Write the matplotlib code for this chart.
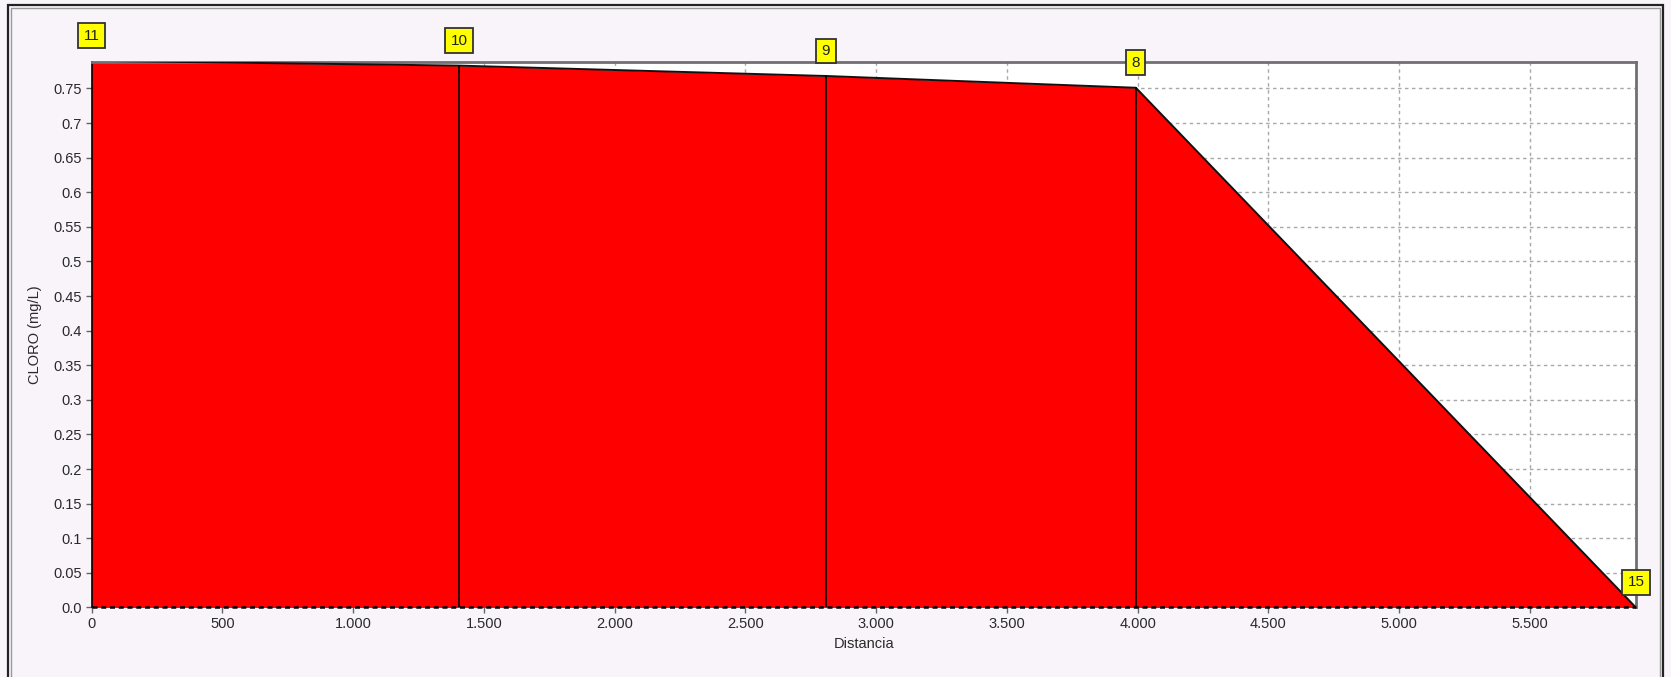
import matplotlib
matplotlib.use("Agg")
import matplotlib.pyplot as plt
from matplotlib.patches import Rectangle
from matplotlib.ticker import FuncFormatter

# Chlorine profile along the pipe path
nodes = ["11", "10", "9", "8", "15"]
distance = [0, 1406, 2808, 3993, 5905]
chlorine = [0.790, 0.783, 0.768, 0.751, 0.0]

x_ticks = [0, 500, 1000, 1500, 2000, 2500, 3000, 3500, 4000, 4500, 5000, 5500]
y_ticks = [0.0, 0.05, 0.1, 0.15, 0.2, 0.25, 0.3, 0.35, 0.4, 0.45, 0.5, 0.55, 0.6, 0.65, 0.7, 0.75]

plt.rcParams["font.family"] = ["Liberation Sans", "DejaVu Sans"]

fig = plt.figure(figsize=(16.71, 6.77), dpi=100)
fig.patch.set_facecolor("#f8f4fa")

# window frame
fig.add_artist(Rectangle((8 / 1671, -0.05), (1663 - 8) / 1671, 1.05 - 5 / 677,
                         transform=fig.transFigure, fill=False,
                         edgecolor="#222222", linewidth=1.6))
fig.add_artist(Rectangle((11 / 1671, -0.05), (1660 - 11) / 1671, 1.05 - 8 / 677,
                         transform=fig.transFigure, fill=False,
                         edgecolor="#9a9a9a", linewidth=1.0))

ax = fig.add_axes([0.0548, 0.1027, 0.979 - 0.0548, 0.9087 - 0.1027])
ax.set_facecolor("white")

ax.set_xlim(0, distance[-1])
ax.set_ylim(0, 0.7885)

ax.grid(True, color="#a8a8a8", linestyle=(0, (2.5, 2.5)), linewidth=1.0)
ax.set_axisbelow(True)

ax.fill_between(distance, chlorine, 0, color="#ff0000", zorder=2, linewidth=0)
ax.plot(distance, chlorine, color="#111111", linewidth=1.4, zorder=3)

# vertical lines at interior nodes
for d, c in zip(distance[1:-1], chlorine[1:-1]):
    ax.plot([d, d], [0, c], color="black", linewidth=1.2, zorder=3)

# zero baseline, dashed
ax.axhline(0, color="black", linewidth=1.8, linestyle=(0, (2, 1.5)), zorder=4, clip_on=False)

# node labels
for name, d, c in zip(nodes, distance, chlorine):
    ax.annotate(name, (d, c), xytext=(0, 18), textcoords="offset points",
                ha="center", va="center", fontsize=11, color="#222222",
                bbox=dict(boxstyle="square,pad=0.35", facecolor="#ffff00",
                          edgecolor="#333333", linewidth=1.3),
                annotation_clip=False, zorder=6)

ax.set_xticks(x_ticks)
ax.set_yticks(y_ticks)
ax.xaxis.set_major_formatter(FuncFormatter(
    lambda v, p: f"{int(round(v)):,}".replace(",", ".")))
ax.yaxis.set_major_formatter(FuncFormatter(
    lambda v, p: "0.0" if abs(v) < 1e-9 else f"{v:.2f}".rstrip("0")))

ax.tick_params(axis="both", labelsize=10.5, colors="#666666", labelcolor="#2a2a2a",
               length=4, width=1, direction="out", pad=3)

for side in ["top", "right"]:
    ax.spines[side].set_color("#707070")
    ax.spines[side].set_linewidth(2.0)
ax.spines["left"].set_color("black")
ax.spines["left"].set_linewidth(1.2)
ax.spines["bottom"].set_visible(False)

ax.set_xlabel("Distancia", fontsize=10.5, color="#2a2a2a", labelpad=4)
ax.set_ylabel("CLORO (mg/L)", fontsize=10.5, color="#2a2a2a", labelpad=8)

fig.savefig("out.png", dpi=100, facecolor=fig.get_facecolor())
